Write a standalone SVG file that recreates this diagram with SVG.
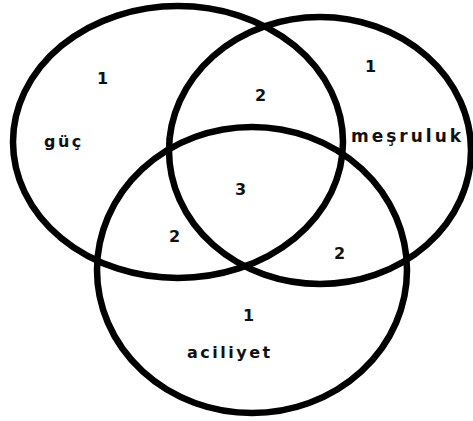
<svg xmlns="http://www.w3.org/2000/svg" width="473" height="421" viewBox="0 0 473 421">
<style>
.c{fill:none;stroke:#000;stroke-width:6.5}
.t{font-family:"DejaVu Sans",Verdana,sans-serif;font-size:16px;font-weight:bold;fill:#111}
.w{letter-spacing:2.5px}
</style>
<rect width="473" height="421" fill="#fff"/>
<g id="connectors"></g>
<g id="guc">
<ellipse class="c" cx="178" cy="142" rx="165" ry="136"/>
<text class="t" x="97" y="84">1</text>
<text class="t w" x="44" y="147">güç</text>
</g>
<g id="mesruluk">
<ellipse class="c" cx="320" cy="150.5" rx="151" ry="133.5"/>
<text class="t" x="365" y="72">1</text>
<text class="t" x="351" y="142" style="font-size:17px;letter-spacing:3px">meşruluk</text>
</g>
<g id="aciliyet">
<ellipse class="c" cx="252" cy="270" rx="155" ry="143"/>
<text class="t" x="243" y="321">1</text>
<text class="t w" x="187" y="358">aciliyet</text>
</g>
<g id="overlaps">
<text class="t" x="255" y="101">2</text>
<text class="t" x="235" y="195">3</text>
<text class="t" x="169" y="242">2</text>
<text class="t" x="334" y="259">2</text>
</g>
</svg>
